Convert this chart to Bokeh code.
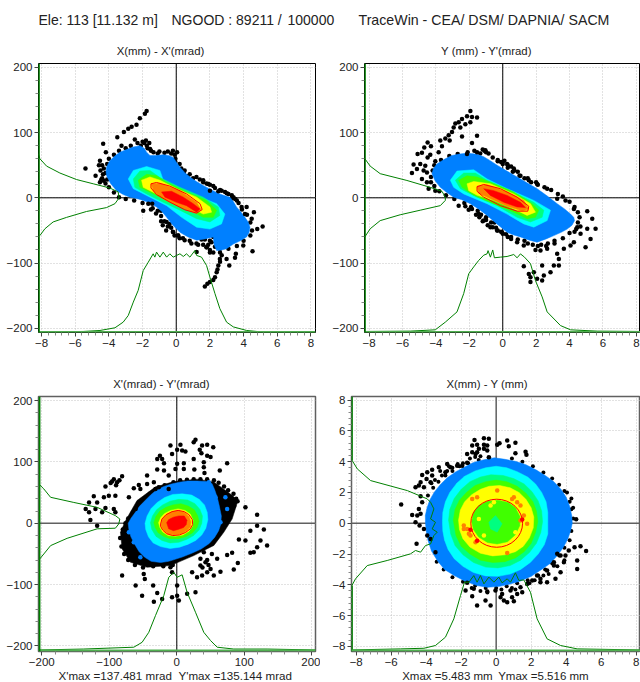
from bokeh.plotting import figure
from bokeh.layouts import column, row
from bokeh.models import Label, Span, FixedTicker, Range1d
from bokeh.embed import file_html
from bokeh.resources import INLINE

FONT = "Liberation Sans"
HEADER = [(38, "Ele: 113 [11.132 m]"), (171, "NGOOD : 89211 /"), (287, "100000"), (358, "TraceWin - CEA/ DSM/ DAPNIA/ SACM")]
TITLES = ["X(mm) - X'(mrad)", "Y (mm) - Y'(mrad)", "X'(mrad) - Y'(mrad)", "X(mm) - Y (mm)"]
FOOT_3 = ["X'max =137.481 mrad", "Y'max =135.144 mrad"]
FOOT_4 = ["Xmax =5.483 mm", "Ymax =5.516 mm"]

TICKS_MM = [-8, -6, -4, -2, 0, 2, 4, 6, 8]
TICKS_MRAD = [-200, -100, 0, 100, 200]

BLUE, CYAN, TEAL, GREEN, YELLOW, ORANGE, RED = "#0080ff", "#00ffff", "#00ff80", "#40ff00", "#ffff00", "#ff8000", "#ff0000"
PROFILE = "#008000"

# ---- panel 1: X - X'
P1_BLUE_X = [-4.14,-4.05,-3.94,-3.65,-3.35,-2.95,-2.55,-2.16,-1.9,-1.76,-1.56,-1.2,-.77,-.45,-.18,0,.22,.5,.81,1.2,1.6,2.1,2.59,2.9,3.19,3.4,3.58,3.85,4.08,4.27,4.38,4.33,4.18,3.8,3.39,2.99,2.7,2.4,2.25,2.2,1.7,1.21,.7,.22,-.2,-.57,-.85,-1.17,-1.55,-1.96,-2.35,-2.75,-3.15,-3.54,-3.9,-4.14,-4.17]
P1_BLUE_Y = [47,52,57,64,70,74,78,80,76,70,65,65,66,65,62,55,47,39,32,25,19,12,6,3,1,-6,-14,-22,-30,-37,-45,-53,-60,-66,-71,-78,-80,-81,-72,-60,-63,-65,-60,-53,-42,-30,-21,-14,-8,-4,-1,1,5,11,22,34,40]
P1_CYAN_X = [-2.85,-2.55,-1.76,-.97,-.77,.22,1.41,2.4,2.89,2.69,2,1.21,.32,-.57,-1.56,-2.55]
P1_CYAN_Y = [29,42,48,42,27,14,1,-9,-25,-40,-48,-45,-30,-12,1,14]
P1_TEAL_X = [-2.55,-2.16,-1.56,-.97,.22,1.6,2.5,2.59,2,1.21,.22,-.77,-1.76,-2.46]
P1_TEAL_Y = [29,41,42,31,16,1,-14,-27,-37,-32,-19,-7,6,16]
P1_GREEN_X = [-2.26,-1.76,-1.17,-.57,.61,1.8,2.4,2.2,1.6,.81,-.38,-1.37,-2.16]
P1_GREEN_Y = [27,36,34,24,9,-4,-19,-30,-30,-19,-7,6,16]
P1_YELLOW_X = [-2.06,-1.56,-.97,.02,1.21,2,2.1,1.6,.81,-.18,-1.17,-1.96]
P1_YELLOW_Y = [27,32,27,14,1,-14,-22,-25,-14,-4,6,16]
P1_ORANGE_X = [-1.47,-.97,.22,1.21,1.5,1.11,.22,-.77,-1.37]
P1_ORANGE_Y = [21,22.5,11,-7,-19,-23.5,-14,-1.5,11]
P1_RED_X = [-.87,-.28,.42,1.01,1.41,1.21,.61,.02,-.67]
P1_RED_Y = [9,10,1,-9,-17,-22,-12,-7,1]
P1_ELL_X = [-1.5,-1.17,-.38,.61,1.41,1.54,1.21,.51,-.38,-1.17,-1.5,-1.5]
P1_ELL_Y = [21.5,23.5,18,6,-9,-18,-23.5,-18.4,-6.6,5,15,21.5]
P1_BOT_X = [-8.2,-5.52,-4.53,-3.64,-3.15,-2.85,-2.55,-2.26,-1.96,-1.66,-1.37,-1.27,-1.17,-.97,-.77,-.57,-.38,-.18,.02,.22,.42,.61,.81,1.11,1.21,1.5,1.8,2,2.3,2.59,2.99,3.39,4.18,5.17,8.26]
P1_BOT_Y = [-206,-205,-203.5,-199.4,-190.7,-180.5,-160,-142,-111.5,-98.7,-85.9,-91,-83.3,-91,-83.3,-91,-85.9,-91,-88.4,-85.9,-90,-85.9,-91,-80.8,-88.4,-91,-103.8,-121.7,-147,-170,-190.7,-198,-203.5,-206,-206]
P1_LEFT_X = [-8.1,-7.8,-7.31,-6.51,-5.33,-4.14,-3.64,-3.39,-3.45,-3.94,-4.93,-5.92,-6.91,-7.7,-8.1,-8.18]
P1_LEFT_Y = [-58,-47.5,-37,-30,-21,-15,-9,0,9,15,21.5,28,38,48.6,60,67.5]
P1_OUT_X = [-1.76,-1.86,-2.16,-2.36,-2.65,-2.85,-3.11,-3.5,-2.46,-3.25,-4.34,-4.18,-4.53,-4.59,-5.39,-4.79,-4.53,-1.96,-1.66,-1.43,1.6,1.9,2.5,2,3.88,4.18,4.61,4.08,4.48,4.81,5.13,4.53,3.98,3.54,3.49,3.15,2.99,2.59,2.5,2.4,2.3,2,1.7,1.21,1.8,-.57,-.18,.12,2.7,2.6,2.45,2.2,1.85]
P1_OUT_Y = [133,129,122,112,109,106,101,93,89.5,80,83,70,57,50,45,34,24,-20,-9,-9,27,21,10,11,-14,-14,-22,-25,-32,-48,-44,-82,-73,-86,-92,-104,-94,-94,-104,-114,-122,-129,-136,-83,-76,-37,-53,-58,-88,-98,-110,-126,-132]
P1_EDGE_X = [-4.2,-4.3,-4.4,-4.1,-4,-3.7,-3.4,-3,-2.7,-2.3,-2,-1.8,-1.6,-1.7,-1.5,-1.1,-.7,-.3,-.1,-.05,.2,.5,.8,1.2,1.6,2,2.3,2.7,3,3.3,3.5,3.7,3.9,4.2,4.4,4.5,4.4,4,3.6,3.1,2.6,2.2,2,1.8,1.6,2,1.7,1.3,.8,.4,.1,-.2,-.5,-.7,-.9,-1.1,-1.4,-2,-2.5,-3,-3.4,-3.7,-4,-4.2,-1.9,-1.75,-2.1,-1.55,-1.35,-1.0,-.5,-.2,.05,-.05,.3,.45,.65,1,1.4,1.8,2.2,2.6,2.9,3.1,3.4,3.6,3.3,-4.4,-4.5,-4.35,-4.45,-4.3,-4.1,-.4,-.3,-.6,-.9,-.8,-.1,.2,.5,.9,1.2,2.2,2.1,2.3,1.9,2,2.6,2.7,1.5,-1.2,-1.5,-.9]
P1_EDGE_Y = [38,45,30,52,60,66,72,76,80,84,86,88,84,76,72,68,69,68,66,60,52,42,36,32,24,20,15,11,7,4,-2,-8,-18,-26,-38,-50,-58,-66,-74,-78,-84,-84,-80,-76,-72,-66,-64,-72,-66,-62,-58,-52,-44,-36,-28,-20,-16,-8,-4,-2,1,8,16,22,84,80,80,75,70,71,71,72,70,55,45,38,33,30,28,22,18,12,9,6,1,-4,-1,50,42,36,28,26,28,-40,-46,-50,-36,-42,-58,-62,-65,-70,-70,-60,-68,-75,-72,-84,-78,-70,-64,-24,-18,-20]

# ---- panel 2: Y - Y'
P2_BLUE_X = [-4.24,-4.15,-3.94,-3.5,-3.04,-2.6,-2.14,-1.6,-1.14,-.75,-.34,.25,.86,1.45,2.06,2.65,3.26,3.7,4.06,4.25,4.3,4.15,3.86,3.5,3.06,2.6,2.06,1.6,1.06,.66,.26,-.35,-.94,-1.45,-1.94,-2.45,-2.94,-3.35,-3.74,-4.05]
P2_BLUE_Y = [37,45,52,59,65,67,68.5,67,63,57,50,41,32,23,14,3,-9,-17,-25,-30,-35,-42,-48,-53,-58,-63,-68,-65,-60,-57,-53,-40,-27,-17,-9,-3,1,8,16,26]
P2_CYAN_X = [-3.14,-2.74,-1.74,-.94,.26,1.86,2.86,2.66,1.86,1.26,.26,-.94,-2.34,-2.94]
P2_CYAN_Y = [27,41,43,29,14,-4,-19,-35,-45,-40,-25,-9,6,16]
P2_TEAL_X = [-2.84,-2.34,-1.64,-.94,.46,1.86,2.46,2.36,1.66,.86,-.34,-1.54,-2.54]
P2_TEAL_Y = [27,38,38,27,11,-7,-19,-30,-37,-30,-12,1,14]
P2_GREEN_X = [-2.64,-2.14,-1.54,-.74,.66,1.76,2.16,1.96,1.46,.66,-.54,-1.74,-2.44]
P2_GREEN_Y = [27,33.7,32,24,9,-9,-19,-30,-32,-22,-9,4,16]
P2_YELLOW_X = [-2.14,-1.74,-.74,.66,1.66,1.96,1.46,.66,-.54,-1.54,-2.04]
P2_YELLOW_Y = [21.5,25,21.5,6,-9,-22,-27,-17,-4,4,11]
P2_ORANGE_X = [-1.54,-.94,.26,1.26,1.56,1.16,.26,-.74,-1.44]
P2_ORANGE_Y = [18,20,9,-4,-17,-20,-13,-1.5,7]
P2_RED_X = [-1.14,-.54,.26,1.06,1.36,.86,.06,-.74]
P2_RED_Y = [14,11,3.6,-7,-15,-14,-7,3.6]
P2_ELL_X = [-1.54,-1.14,-.14,.86,1.56,1.5,.86,-.14,-1.14,-1.54,-1.54]
P2_ELL_Y = [17,20.5,14,1,-13,-20.5,-20.5,-12,1,10,17]
P2_BOT_X = [-8.28,-5.54,-4.04,-3.44,-2.74,-2.34,-2.04,-1.74,-1.44,-1.14,-.94,-.88,-.74,-.6,-.5,-.14,.26,.66,.86,1.06,1.3,1.66,1.96,2.36,2.66,3.46,4.06,5.66,8.26]
P2_BOT_Y = [-205,-204.5,-202.5,-190.7,-175,-147,-116.6,-106,-96,-88,-86,-81,-91,-80,-92,-91,-90,-87,-92,-86,-91,-101,-127,-152,-175,-196,-202.5,-204.5,-205]
P2_LEFT_X = [-8.26,-7.94,-7.34,-6.14,-4.94,-3.74,-3.44,-3.44,-3.64,-4.34,-5.74,-7.34,-7.94,-8.26]
P2_LEFT_Y = [-60,-47.5,-35,-26,-19,-12,-4,1,10,16,26.6,37,48.6,60]
P2_OUT_X = [-1.94,-1.54,-1.84,-2.14,-2.44,-2.64,-2.84,-2.94,-2.54,-2.24,-1.94,-1.54,-1.84,-2.44,-3.04,-3.24,-3.44,-3.74,-3.18,-3.64,-4.5,-4.3,-4.7,-4.84,-5.1,-4.34,-4.5,-3.84,-4.04,-5.34,-4.94,-4.64,-5.14,-4.74,-5.44,-4.54,-4.84,-4.54,-4.44,-4.04,-1.04,-1.54,-2.14,-2.64,-2.24,-1.84,-2.04,-1.44,-1.14,-.74,-.34,-.04,.26,.66,1.06,1.56,2.06,2.66,3.26,3.76,4.26,5.06,5.36,5.56,5.06,5.26,4.46,4.66,4.06,4.26,4.96,3.66,3.26,3.36,2.66,2.26,1.96,1.26,.86,1.26,2.36,3.06,3.36,1.86,1.66,2.06,2.46,2.86,1.66,2.36,1.56]
P2_OUT_Y = [133,123,124,125,121,116,114,108,108,113,116,95,84,94,101,96,91,88,88,79,85,79,77,69,67,66,62,70,56,51,52,49,44,42,38,39,29,24,14,11,73,70,67,-12,-13,-17,-18.4,-25,-35,-45,-50,-53,52,45,34,27,21,14,-1.5,-4,-17,-20.5,-32,-47.5,-47.5,-63,-45,-55,-73,-68,-76,-78,-86,-94,-78,-81,-80,-73,-68,-105,-104,-104,-104,-114,-122,-124,-119,-114,-129,-127,-117]
P2_EDGE_X = [-4.3,-4.2,-4.1,-3.7,-3.2,-2.7,-2.1,-1.7,-1.2,-1,-.6,-.3,0,.3,.6,1,1.3,1.7,2.1,2.5,2.9,3.3,3.6,4,4.3,4.5,4.6,4.5,4.4,4,3.6,3.1,2.7,2.3,1.8,1.3,.9,.5,.2,-.1,-.4,-.7,-1,-1.3,-1.5,-1.9,-2.3,-2.9,-3.4,-3.8,-4.1,-4.3,-.3,-.1,.1,.3,.5,.7,.9,1.5,2,-1.4,-1.2,-.9,-.6,-.3,0,.3,-1.6,-1,-.5,.5,-1.1,-1.35,-.85,3.1,2.6,2.1,1.5,4.3,4.65]
P2_EDGE_Y = [32,42,50,58,64,67,70,72,74,70,62,56,52,46,40,34,30,24,20,16,12,6,2,-6,-14,-22,-30,-38,-48,-54,-62,-66,-70,-72,-72,-66,-64,-60,-56,-52,-46,-38,-34,-26,-20,-14,-8,-2,4,10,18,24,58,55,57,50,48,42,40,30,24,-30,-36,-42,-45,-50,-55,-60,-26,-30,-38,-63,72,68,68,-70,-74,-74,-70,-52,-44]

# ---- panel 3: X' - Y'
P3_HALO_X = [-83.5,-76,-59,-32,-4.4,30,55,82,90.6,82,69.6,55,25.2,-9.4,-44,-68.6,-81]
P3_HALO_Y = [-14.7,4.3,37,59,68,72,67.4,45.7,37,7,-14.7,-36,-52.7,-69,-71.7,-63.6,-41.8]
P3_BLUE_X = [-72,-68,-62,-55,-47,-38,-29,-19,-8,4,16,30,44,52,56,60,63,66,65,62,56,48,36,22,8,-6,-12,-24,-38,-48,-56,-62,-68,-71]
P3_BLUE_Y = [0,8,17,28,37,47,55,60,64,67,69,69,68,65,55,42,28,12,-2,-12,-23,-33,-42,-49,-55,-60,-62,-64,-62,-55,-46,-35,-22,-10]
P3_CYAN_X = [-47,-44,-38,-29,-18,-6,8,22,33,41,45,46,43,37,28,17,4,-10,-24,-35,-42,-46]
P3_CYAN_Y = [0,12,24,34,42,47,48,46,39,30,18,6,-8,-19,-28,-34,-39,-41,-38,-32,-22,-10]
P3_TEAL_X = [-39,-36,-30,-21,-10,3,16,27,34,38,37,33,25,15,3,-10,-22,-31,-37]
P3_TEAL_Y = [1,12,22,30,36,39,38,32,23,12,0,-11,-20,-26,-31,-32,-28,-21,-10]
P3_GREEN_X = [-34,-31,-25,-16,-6,6,17,26,31,33,30,23,13,2,-10,-20,-28,-32]
P3_GREEN_Y = [1,11,20,26,30,32,28,22,12,3,-7,-16,-22,-25,-25,-21,-15,-7]
P3_YELLOW_X = [-27,-24,-18,-9,2,12,20,24,23,18,9,-2,-13,-21,-25]
P3_YELLOW_Y = [1,9,16,21,23.5,21,15,5,-5,-13,-19,-21,-20,-14,-7]
P3_ORANGE_X = [-23,-21,-16,-7,2,11,18,21,20,14,5,-5,-14,-20,-23]
P3_ORANGE_Y = [0,8,14,19,21,18,11,2,-6,-13,-18,-19,-17,-11,-5]
P3_RED_X = [-15,-12,-5,3,11,15,14,10,2,-5,-12]
P3_RED_Y = [1,6,10,12,12,5,-2,-7,-10,-12,-9]
P3_ELL_X = [-24,-22,-16,-7,2,11,18,23,23.5,20,13,4,-6,-15,-21,-24,-24]
P3_ELL_Y = [-1,7,14,19,21,19,14,6,-2,-9,-15,-19,-20,-17,-11,-5,-1]
P3_BOT_X = [-204.4,-138,-63.7,-51.4,-41.5,-31.6,-19.3,-11.9,-4.4,.5,7.9,15.3,27.7,40,49.9,59.8,84.4,133.8,206]
P3_BOT_Y = [-206.5,-205,-202,-194,-177.7,-150.5,-118,-88,-80,-88,-84,-112.5,-145,-177.7,-191,-202,-205,-205,-206.5]
P3_LEFT_X = [-203,-197,-187,-162.5,-118,-91,-86,-84.4,-91,-118,-152.6,-187,-197,-203]
P3_LEFT_Y = [-58,-50,-36.4,-24.5,-9,-8,-1,7,12.5,26,34,42.4,56,62.5]
P3_OUT_X = [27.7,25,37.5,45,54,34,-9.4,5.4,.5,7.9,12.8,36.5,-7,45,50,-25,-21.7,-29,-19,.5,10.4,25,40,74.6,-29,-19,-12,-2,10.4,26,40,41,63.7,-44,-81,-93.3,-98,-88.4,-105.7,-56.3,-44,-34,-26.7,-12,-54,-63.7,-71,-31.6,-91,-100.7,-108,-118,-123,-130,-135,-120.5,-105.7,-93.3,-91,-110.6,-130,-128,-118,-61,101.7,119,129,109,119,101.7,92,124,133.8,119,109,114,74.6,82,90.4,84.4,-81,-49,-47.4,-61,-51.4,-35,-29,-34,-21.7,.5,.5,-7,3,27.7,15.3,22.7,35,42.5,50,59.8,52,40,35,30,37.5,54.8,64.7,45,-9.4,-7,-96,-90,-85,45,38,47]
P3_OUT_Y = [136,132,127,128,124,120,127,128,120,118.5,117,114,113,110,108,110,105,105,98,97,98,105,99.5,98,87.5,86,78,88.6,88.6,87.5,91.3,82,86,78,76.6,72,65.8,66.8,60,62.5,64,66.8,58.7,56,56,57,42.4,56,45,45,42.4,34,44,34,23.4,23.4,25,23.4,18,18,18,5.4,-3.8,23.4,26,14,-10,-12,-3.8,-28,-26.6,-28,-36.4,-39,-48,-47,-51.6,-48,-64.7,-75.5,-85,-82.6,-90.8,-101.6,-118,-101.6,-113.6,-127.7,-123.4,-101.6,-118,-120.7,-126,-112.5,-115,-80,-69,-63.6,-74.5,-58,-50,-47,-58,-88,-85,-85,-78.8,-80,-71.7,-80,68,62,70,-60,-72,-68]
P3_EDGE_X = [-5,5,15,25,35,45,55,62,70,76,84,88,90,85,80,78,72,-6,-20,-35,-50,-62,-72,-78,-82,-84,-80,-76,-72,-65,-58,-50,-40,-30,-18]
P3_EDGE_Y = [67,70,71,72,72,72,70,66,60,54,48,40,36,28,20,10,0,-68,-70,-70,-72,-68,-60,-50,-38,-24,-10,0,8,18,28,38,48,56,62]
P3_DOTS_X = [47.4,57.3,72,74.6,-71,-54,-63.7,64.7]
P3_DOTS_Y = [67,42.4,42.4,23.4,-14.7,-55.4,-31,1.6]

# ---- panel 4: X - Y
P4_BLUE_X = [-4.04,-4.05,-3.95,-3.8,-3.55,-3.2,-2.8,-2.3,-1.8,-1.3,-.7,-.1,.5,1.1,1.7,2.3,2.8,3.3,3.7,4,4.2,4.32,4.35,4.25,4.1,3.85,3.5,3.1,2.6,2,1.4,.8,.2,-.5,-1.1,-1.8,-2.4,-2.95,-3.35,-3.7,-3.9,-4]
P4_BLUE_Y = [0,.5,1,1.5,2,2.5,2.95,3.35,3.65,3.95,4.12,4.25,4.15,4.02,3.8,3.45,3.1,2.7,2.2,1.7,1.1,.5,0,-.5,-1,-1.55,-2.1,-2.6,-3,-3.45,-3.75,-3.95,-4.1,-4.16,-4.05,-3.75,-3.4,-3,-2.45,-1.8,-1.1,-.5]
P4_CYAN_X = [-3.07,-3.05,-2.9,-2.65,-2.25,-1.8,-1.2,-.6,0,.6,1.2,1.8,2.25,2.6,2.85,2.95,2.95,2.95,2.75,2.4,1.95,1.4,.8,.1,-.6,-1.3,-1.9,-2.4,-2.75,-2.95,-3.05]
P4_CYAN_Y = [.1,.7,1.4,2,2.6,3.05,3.4,3.6,3.7,3.6,3.35,3,2.55,2,1.4,.7,0,-.7,-1.4,-2,-2.55,-3,-3.3,-3.45,-3.42,-3.2,-2.8,-2.3,-1.7,-1.1,-.5]
P4_TEAL_X = [-2.72,-2.65,-2.4,-2,-1.5,-.9,-.3,.4,1,1.6,2.05,2.4,2.6,2.65,2.55,2.3,1.9,1.4,.8,.1,-.6,-1.3,-1.9,-2.35,-2.6]
P4_TEAL_Y = [.2,.9,1.6,2.2,2.7,3,3.15,3.1,2.9,2.55,2.05,1.45,.8,.1,-.6,-1.3,-1.9,-2.4,-2.75,-2.9,-2.85,-2.55,-2.05,-1.45,-.7]
P4_GREEN_X = [-2.45,-2.35,-2.1,-1.7,-1.2,-.6,0,.6,1.2,1.7,2.1,2.3,2.38,2.25,2,1.6,1.1,.5,-.2,-.9,-1.5,-2,-2.3]
P4_GREEN_Y = [.2,.9,1.5,2,2.45,2.7,2.8,2.7,2.4,1.95,1.4,.8,.1,-.6,-1.3,-1.85,-2.25,-2.5,-2.55,-2.4,-2,-1.5,-.8]
P4_YELLOW_X = [-2.15,-2.05,-1.8,-1.4,-.9,-.4,.2,.8,1.3,1.7,2,2.15,2.12,1.9,1.55,1.1,.5,-.2,-.9,-1.5,-1.9,-2.1]
P4_YELLOW_Y = [.2,.85,1.4,1.85,2.2,2.4,2.45,2.3,2,1.55,1,.4,-.3,-.95,-1.5,-1.85,-2.05,-2.12,-1.95,-1.55,-1,-.4]
P4_INNER_X = [-1.4,-1.3,-1,-.5,.1,.7,1.1,1.35,1.35,1.1,.65,.05,-.5,-1,-1.3]
P4_INNER_Y = [.1,.7,1.15,1.42,1.5,1.35,1,.45,-.15,-.75,-1.2,-1.35,-1.25,-.9,-.4]
P4_CORE_X = [-.42,-.04,.34,.06,-.32]
P4_CORE_Y = [.06,.5,-.04,-.58,-.37]
P4_ORANGE_X = [-1.85,-1.66,-1.47,-1.18,.91,1.2,1.39,1.77,.06,.63,-1.09,-1.37,1.58,1.39,-1.56,1.01,-1.85]
P4_ORANGE_Y = [-.15,-.37,-.8,-1.23,1.58,1.36,1.15,-.04,2.12,-1.93,1.69,1.58,.5,.17,-.69,1.69,-.37]
P4_RED_X = [-1.47,1.49,-1.09]
P4_RED_Y = [-.43,.24,-1.13]
P4_SPOT_X = [-.32,-.13,-.7,1.1,-.99]
P4_SPOT_Y = [1.15,1.36,-.8,-.58,.28]
P4_ELL_W, P4_ELL_H = 2.96, 3.12
P4_BOT_X = [-8.27,-5.47,-4.13,-3.47,-2.9,-2.42,-2.04,-1.81,-1.56,-1.28,-1.09,-.9,-.7,-.42,-.13,.15,.34,.63,.82,1.1,1.3,1.58,1.96,2.34,2.91,3.68,4.63,8.25]
P4_BOT_Y = [-8.23,-8.16,-8.12,-7.94,-7.4,-6.21,-4.7,-3.83,-3.83,-3.4,-3.83,-3.4,-3.94,-3.5,-3.83,-3.5,-3.87,-3.61,-3.83,-3.22,-3.72,-3.68,-4.48,-6.21,-7.51,-7.94,-8.16,-8.23]
P4_LEFT_X = [-8.25,-8.04,-7.37,-6.23,-4.9,-4.61,-4.32,-4.04,-3.75,-3.56,-3.37,-3.66,-3.47,-3.75,-3.56,-3.75,-3.94,-5.08,-7.18,-7.94,-8.25]
P4_LEFT_Y = [-4.05,-3.61,-2.75,-2.42,-1.99,-1.77,-1.88,-1.45,-1.34,-.8,-.58,-.37,.06,.28,.93,1.36,1.58,2.12,2.77,3.53,4.11]
P4_LEFT_TOP_X = [-8.25,-8.25]
P4_LEFT_TOP_Y = [4.11,8.23]
P4_LEFT_BOT_X = [-8.25,-8.25]
P4_LEFT_BOT_Y = [-8.33,-4.05]
P4_OUT_X = [-.7,-.42,-1.24,.63,1.1,-1.09,-.7,-.51,-1.37,.19,.06,.72,1.1,1.68,-.99,-.7,-.51,-1.37,-1.66,-1.18,-1.09,-.42,1.73,-3.28,-3.66,-3.94,-4.23,-4.32,-3.98,-3.66,-4.42,-4.61,-4.13,-3.75,-2.8,-2.61,-2.9,-2.23,-1.94,-1.66,-4.32,-4.23,-5.43,-4.8,-4.51,-4.32,-4.42,-4.61,-4.38,-4.13,-4.55,-3.47,-3.75,-3.94,4.57,4.48,4.82,5.14,4.15,3.96,4.63,3.87,3.68,3.3,3.49,4.63,3.68,3.3,2.91,2.34,2.53,2.06,2.53,2.91,3.39,-1.66,-1.75,-1.28,-1.37,-.32,-.61,-1.09,-.51,-.04,.34,.25,.44,.63,1.01,.91,1.2,1.49,1.39,1.77,.82]
P4_OUT_Y = [5.52,5.48,5.41,5.37,5.22,5.09,5.09,5.04,5.04,5.19,5.09,5,4.55,4.65,4.83,4.83,4.72,4.61,4.5,4.5,4.61,4.29,4.44,3.64,3.48,3.31,3.14,2.66,2.88,3.1,2.45,2.34,2.34,2.66,3.85,3.64,3.31,3.74,3.74,3.92,1.75,1.36,1.21,.54,.5,.61,.93,.06,-.15,-.37,-1.34,-1.88,-1.02,-.8,.26,-1.56,-1.49,-1.8,-1.77,-2.1,-2.42,-2.53,-2.1,-2.53,-1.99,-2.97,-3.18,-2.75,-3.07,-3.4,-3.61,-3.72,-3.83,-3.83,-3.61,-3.87,-4.37,-4.26,-4.74,-5.35,-5.02,-5.35,-4.44,-4.37,-4.59,-4.81,-5.02,-5.13,-5.06,-4.81,-4.59,-4.48,-4.16,-3.94,-4.37]
P4_EDGE_X = [-3.9,-3.6,-3.3,-2.9,-2.5,-2.1,-1.6,-1,-.4,.9,1.5,2.1,2.7,3.2,3.6,3.9,4.2,4.3,4.4,4.3,4.2,3.9,3.6,3.2,2.8,2.4,1.8,1.2,.6,0,-.6,-1.2,-1.9,-2.5,-3,-3.4,-3.5,-3.1,-2.8,-2.5,-2.2,-1.9,-1.5,-1.2,-.9,-3.2,-2.7,-3.7,3,2.7,2.2,1.9,3.5,3.9,-1.4,-.9,-.5,.3,.9,1.1,4.4,4.3,4.05]
P4_EDGE_Y = [1.8,2.3,2.7,3.1,3.4,3.7,3.9,4.1,4.25,4.2,4,3.7,3.3,2.9,2.5,2.1,1.4,.9,.3,-.5,-1.1,-1.6,-2.1,-2.6,-3,-3.4,-3.7,-3.9,-4.1,-4.2,-4.2,-4.05,-3.8,-3.5,-3,-2.5,2.8,3.1,3.4,3.6,3.85,3.9,4.2,4.3,4.35,3.4,3.7,2.6,-3.3,-3.4,-3.7,-3.9,-2.8,-2.4,-4.2,-4.4,-4.5,-4.3,-4.2,-4.3,1,1.6,2]


def make_fig(w, h, left, right, top, bottom, xr, yr, xticks, xminor, yticks, yminor, grey=False):
    p = figure(width=w, height=h, x_range=Range1d(*xr), y_range=Range1d(*yr),
               min_border_left=left, min_border_right=right, min_border_top=top, min_border_bottom=bottom,
               toolbar_location=None, output_backend="svg", background_fill_color="#ffffff",
               border_fill_color="#ffffff")
    p.xaxis.ticker = FixedTicker(ticks=xticks, minor_ticks=xminor)
    p.yaxis.ticker = FixedTicker(ticks=yticks, minor_ticks=yminor)
    for ax in (p.xaxis[0], p.yaxis[0]):
        ax.major_label_text_font = FONT
        ax.major_label_text_font_size = "11.5px"
        ax.major_label_text_color = "#222222"
        ax.major_tick_out = 4
        ax.major_tick_in = 0
        ax.minor_tick_out = 3
        ax.minor_tick_in = 0
        ax.major_label_standoff = 2
        ax.axis_line_color = None
        ax.major_tick_line_color = "#444444"
        ax.minor_tick_line_color = "#888888"
    p.grid.grid_line_color = "#c4c4c4"
    p.grid.grid_line_dash = "1 2"
    p.grid.level = "underlay"
    p.outline_line_color = "#606060" if grey else "#000000"
    p.outline_line_width = 1.5 if grey else 1
    return p


def patches(p, layers):
    for xs, ys, c in layers:
        p.patch(xs, ys, fill_color=c, line_color=c, line_width=0.5)


def dots(p, xs, ys, color="#000000", size=4.5):
    p.scatter(xs, ys, size=size, fill_color=color, line_color=None)


def zero_lines(p, c_h, c_v, w_h, w_v):
    p.add_layout(Span(location=0, dimension="width", line_color=c_h, line_width=w_h, level="underlay"))
    p.add_layout(Span(location=0, dimension="height", line_color=c_v, line_width=w_v, level="underlay"))


def strip(height, items):
    """A text-only band across the page; each item is (x, y from the band's bottom, text, size, align)."""
    s = figure(width=640, height=height, x_range=Range1d(0, 640), y_range=Range1d(0, height), toolbar_location=None,
               output_backend="svg", min_border=0, outline_line_color=None)
    s.axis.visible = False
    s.grid.visible = False
    for x, y, text, size, align in items:
        s.add_layout(Label(x=x, y=y, text=text, text_font=FONT, text_font_size=size, text_color="#222222",
                           text_baseline="middle", text_align=align))
    return s


MM_MINOR = [v / 10 for v in range(-80, 81, 4) if v % 20]
MRAD_MINOR = [v for v in range(-200, 201, 20) if v % 100]

H_TOP, H_BOT = 294, 278

head = strip(58, [(38, 39, HEADER[0][1], "14px", "left"), (171, 39, HEADER[1][1], "14px", "left"),
                  (287, 39, HEADER[2][1], "14px", "left"), (358, 39, HEADER[3][1], "14.2px", "left")] +
             [(160, 8, TITLES[0], "11.4px", "center"), (486, 8, TITLES[1], "11.4px", "center")])
mid = strip(38, [(161, 6.7, TITLES[2], "11.4px", "center"), (486.7, 6.7, TITLES[3], "11.4px", "center")])
foot = strip(14, [(58, 7, FOOT_3[0], "11.6px", "left"), (178, 7, FOOT_3[1], "11.6px", "left"),
                  (401.7, 7, FOOT_4[0], "11.5px", "left"), (497.7, 7, FOOT_4[1], "11.5px", "left")])

# panel 1
p1 = make_fig(320, H_TOP, 38, 5, 5, 20, (-8.18, 8.27), (-206.6, 206), TICKS_MM, MM_MINOR, TICKS_MRAD, MRAD_MINOR)
zero_lines(p1, "#000000", "#000000", 1, 1)
dots(p1, P1_EDGE_X, P1_EDGE_Y)
patches(p1, [(P1_BLUE_X, P1_BLUE_Y, BLUE), (P1_CYAN_X, P1_CYAN_Y, CYAN),
             (P1_TEAL_X, P1_TEAL_Y, TEAL), (P1_GREEN_X, P1_GREEN_Y, GREEN), (P1_YELLOW_X, P1_YELLOW_Y, YELLOW),
             (P1_ORANGE_X, P1_ORANGE_Y, ORANGE), (P1_RED_X, P1_RED_Y, RED)])
dots(p1, P1_OUT_X, P1_OUT_Y)
p1.line(P1_ELL_X, P1_ELL_Y, line_color=RED, line_width=1)
p1.line(P1_BOT_X, P1_BOT_Y, line_color=PROFILE, line_width=1)
p1.line(P1_LEFT_X, P1_LEFT_Y, line_color=PROFILE, line_width=1)

# panel 2
p2 = make_fig(320, H_TOP, 44, 0, 5, 20, (-8.28, 8.25), (-206.6, 206), TICKS_MM, MM_MINOR, TICKS_MRAD, MRAD_MINOR)
zero_lines(p2, "#000000", "#000000", 1, 1)
dots(p2, P2_EDGE_X, P2_EDGE_Y)
patches(p2, [(P2_BLUE_X, P2_BLUE_Y, BLUE), (P2_CYAN_X, P2_CYAN_Y, CYAN),
             (P2_TEAL_X, P2_TEAL_Y, TEAL), (P2_GREEN_X, P2_GREEN_Y, GREEN), (P2_YELLOW_X, P2_YELLOW_Y, YELLOW),
             (P2_ORANGE_X, P2_ORANGE_Y, ORANGE), (P2_RED_X, P2_RED_Y, RED)])
dots(p2, P2_OUT_X, P2_OUT_Y)
p2.line(P2_ELL_X, P2_ELL_Y, line_color=RED, line_width=1)
p2.line(P2_BOT_X, P2_BOT_Y, line_color=PROFILE, line_width=1)
p2.line(P2_LEFT_X, P2_LEFT_Y, line_color=PROFILE, line_width=1)

# panel 3
p3 = make_fig(320, H_BOT, 38, 5, 6, 17, (-204.9, 205.5), (-209, 206.7), TICKS_MRAD, MRAD_MINOR, TICKS_MRAD, MRAD_MINOR, grey=True)
zero_lines(p3, "#606060", "#000000", 1.5, 1)
patches(p3, [(P3_HALO_X, P3_HALO_Y, "#000000")])
dots(p3, P3_EDGE_X, P3_EDGE_Y)
patches(p3, [(P3_BLUE_X, P3_BLUE_Y, BLUE), (P3_CYAN_X, P3_CYAN_Y, CYAN),
             (P3_TEAL_X, P3_TEAL_Y, TEAL), (P3_GREEN_X, P3_GREEN_Y, GREEN), (P3_YELLOW_X, P3_YELLOW_Y, YELLOW),
             (P3_ORANGE_X, P3_ORANGE_Y, ORANGE), (P3_RED_X, P3_RED_Y, RED)])
dots(p3, P3_OUT_X, P3_OUT_Y)
dots(p3, P3_DOTS_X, P3_DOTS_Y, BLUE)
p3.line(P3_ELL_X, P3_ELL_Y, line_color=RED, line_width=1)
p3.line(P3_BOT_X, P3_BOT_Y, line_color=PROFILE, line_width=1)
p3.line(P3_LEFT_X, P3_LEFT_Y, line_color=PROFILE, line_width=1)

# panel 4
p4 = make_fig(320, H_BOT, 31, 0, 6, 17, (-8.27, 8.25), (-8.33, 8.23), TICKS_MM, MM_MINOR, TICKS_MM, MM_MINOR, grey=True)
zero_lines(p4, "#606060", "#606060", 1.5, 1.5)
dots(p4, P4_EDGE_X, P4_EDGE_Y, size=4)
patches(p4, [(P4_BLUE_X, P4_BLUE_Y, BLUE), (P4_CYAN_X, P4_CYAN_Y, CYAN),
             (P4_TEAL_X, P4_TEAL_Y, TEAL), (P4_GREEN_X, P4_GREEN_Y, GREEN), (P4_YELLOW_X, P4_YELLOW_Y, YELLOW),
             (P4_INNER_X, P4_INNER_Y, GREEN), (P4_CORE_X, P4_CORE_Y, TEAL)])
dots(p4, P4_OUT_X, P4_OUT_Y)
dots(p4, P4_SPOT_X, P4_SPOT_Y, YELLOW)
dots(p4, P4_ORANGE_X, P4_ORANGE_Y, ORANGE)
dots(p4, P4_RED_X, P4_RED_Y, RED)
p4.ellipse(x=[0.03], y=[0], width=[P4_ELL_W], height=[P4_ELL_H], fill_color=None, line_color=RED, line_width=1)
p4.line(P4_BOT_X, P4_BOT_Y, line_color=PROFILE, line_width=1)
p4.line(P4_LEFT_X, P4_LEFT_Y, line_color=PROFILE, line_width=1)
p4.line(P4_LEFT_TOP_X, P4_LEFT_TOP_Y, line_color=PROFILE, line_width=2)
p4.line(P4_LEFT_BOT_X, P4_LEFT_BOT_Y, line_color=PROFILE, line_width=2)

# bright baselines along the bottom and the left of each panel
for fig, base, c in ((p1, -206, "#50b050"), (p2, -206, "#50b050"), (p3, -207.5, "#50b050"), (p4, -8.26, "#50b050")):
    fig.add_layout(Span(location=base, dimension="width", line_color=c, line_width=2))
for fig, edge in ((p1, -8.16), (p2, -8.26), (p3, -203.5)):
    fig.add_layout(Span(location=edge, dimension="height", line_color=PROFILE, line_width=2))

page = column(head, row(p1, p2, spacing=0), mid, row(p3, p4, spacing=0), foot, spacing=0)
open("out.html", "w").write(file_html(page, INLINE))
